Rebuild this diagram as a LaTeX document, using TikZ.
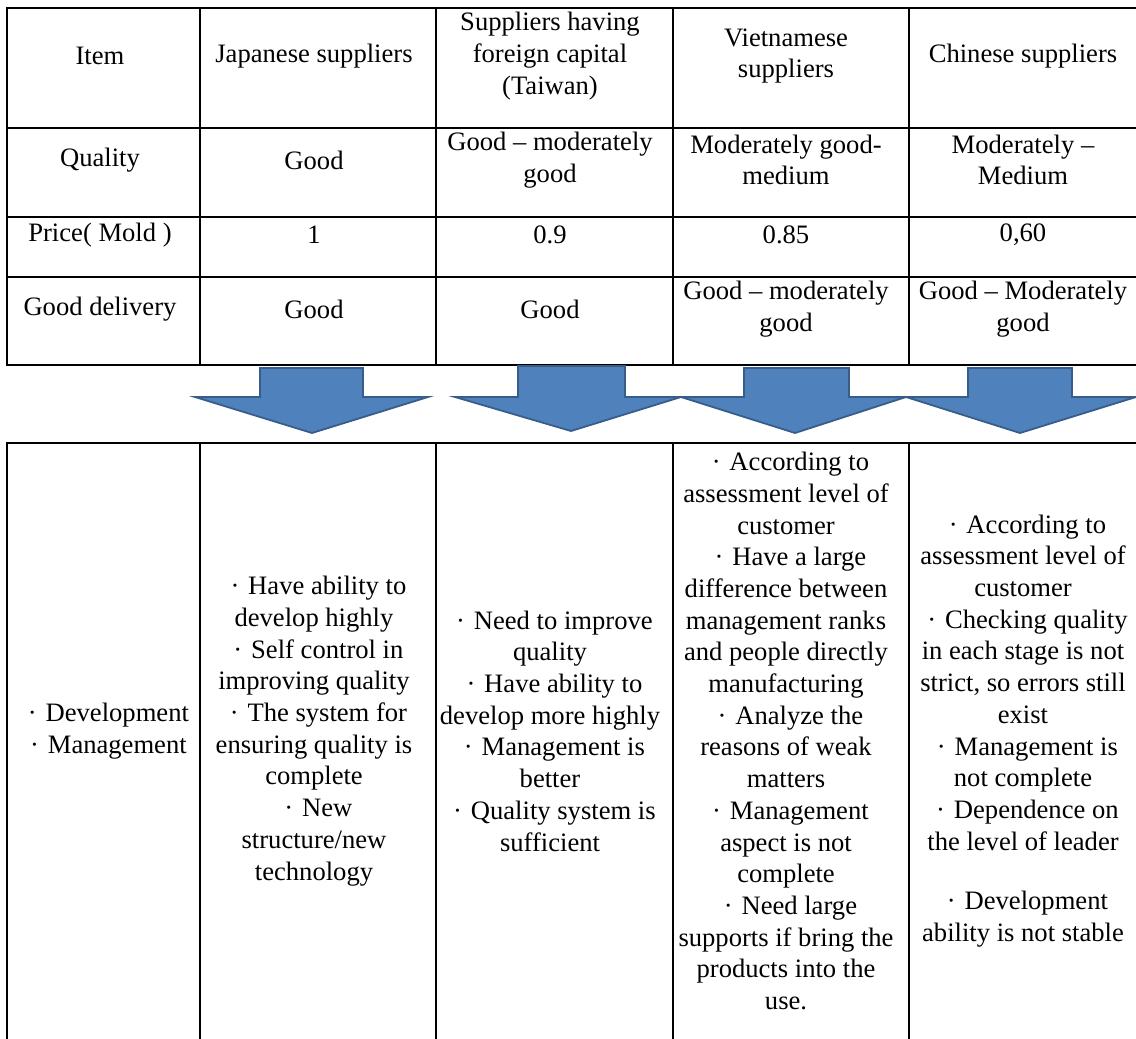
\documentclass[tikz,border=0pt]{standalone}
\usepackage{fontspec}
\setmainfont{Liberation Serif}
\newcommand{\bul}{\makebox[1em]{·}}
\definecolor{arrowfill}{HTML}{4F81BD}
\definecolor{arrowline}{HTML}{385D8A}
\begin{document}
\begin{tikzpicture}[x=0.5pt,y=-0.5pt,
        cell/.style={align=center,inner sep=0pt,font=\fontsize{13.3}{15.85}\selectfont},
        grid/.style={line width=1pt},
        blockarrow/.style={fill=arrowfill,draw=arrowline,line width=0.9pt,line join=miter}]
        \useasboundingbox (0,0) rectangle (1136,1039);
        \clip (0,0) rectangle (1136,1039);
        \draw[grid] (7,8) rectangle (1145,365);
        \foreach \y in {128,217,277} \draw[grid] (7,\y) -- (1145,\y);
        \foreach \x in {200,436,673,909} \draw[grid] (\x,8) -- (\x,365);
        \draw[grid] (7,1050) -- (7,443) -- (1145,443) -- (1145,1050);
        \foreach \x in {200,436,673,909} \draw[grid] (\x,443) -- (\x,1050);
        \foreach \wl/\sl/\sr/\wr/\tx/\ty/\top in {195/260/363/428/312/433/368, 455/518/625/681/571/431/366, 681/744/849/906/795/433/368, 906/968/1072/1136/1020/433/368}
            \draw[blockarrow] (\sl,\top) -- (\sr,\top) -- (\sr,397) -- (\wr,397) -- (\tx,\ty) -- (\wl,397) -- (\sl,397) -- cycle;
        \node[cell] (itemhead) at (100,56) {Item};
        \node[cell] (jphead) at (314,56) {Japanese suppliers};
        \node[cell] (twhead) at (550,56) {Suppliers having\\foreign capital\\(Taiwan)};
        \node[cell] (vnhead) at (786,56) {Vietnamese\\suppliers};
        \node[cell] (cnhead) at (1023,56) {Chinese suppliers};
        \node[cell] (quality) at (100,160) {Quality};
        \node[cell] (jpquality) at (314,160) {Good};
        \node[cell] (twquality) at (550,160) {Good -- moderately\\good};
        \node[cell] (vnquality) at (786,160) {Moderately good-\\medium};
        \node[cell] (cnquality) at (1023,160) {Moderately --\\Medium};
        \node[cell] (price) at (100,235) {Price( Mold )};
        \node[cell] (jpprice) at (314,235) {1};
        \node[cell] (twprice) at (550,235) {0.9};
        \node[cell] (vnprice) at (786,235) {0.85};
        \node[cell] (cnprice) at (1023,235) {0,60};
        \node[cell] (delivery) at (100,309) {Good delivery};
        \node[cell] (jpdelivery) at (314,309) {Good};
        \node[cell] (twdelivery) at (550,309) {Good};
        \node[cell] (vndelivery) at (786,309) {Good -- moderately\\good};
        \node[cell] (cndelivery) at (1023,309) {Good -- Moderately\\good};
        \node[cell] (devman) at (104,731) {\bul Development\\\bul Management};
        \node[cell] (jpdevman) at (314,731) {\bul Have ability to\\develop highly\\\bul Self control in\\improving quality\\\bul The system for\\ensuring quality is\\complete\\\bul New\\structure/new\\technology};
        \node[cell] (twdevman) at (550,731) {\bul Need to improve\\quality\\\bul Have ability to\\develop more highly\\\bul Management is\\better\\\bul Quality system is\\sufficient};
        \node[cell] (vndevman) at (786,731) {\bul According to\\assessment level of\\customer\\\bul Have a large\\difference between\\management ranks\\and people directly\\manufacturing\\\bul Analyze the\\reasons of weak\\matters\\\bul Management\\aspect is not\\complete\\\bul Need large\\supports if bring the\\products into the\\use.};
        \node[cell] (cndevman) at (1023,731) {\bul According to\\assessment level of\\customer\\\bul Checking quality\\in each stage is not\\strict, so errors still\\exist\\\bul Management is\\not complete\\\bul Dependence on\\the level of leader\\[14pt]\bul Development\\ability is not stable};
\end{tikzpicture}
\end{document}
